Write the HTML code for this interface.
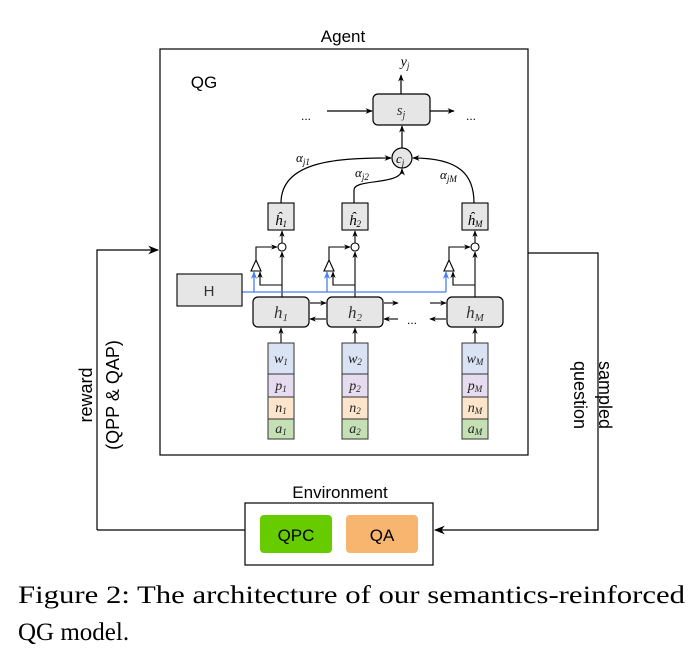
<!DOCTYPE html>
<html><head><meta charset="utf-8"><style>
html,body{margin:0;padding:0;background:#fff;width:700px;height:663px;overflow:hidden}
svg{display:block}
.s{font-family:"Liberation Sans",sans-serif}
.m{font-family:"Liberation Serif",serif;font-style:italic}
</style></head><body>
<svg width="700" height="663" viewBox="0 0 700 663" xmlns="http://www.w3.org/2000/svg">
<defs>
<marker id="a" viewBox="0 0 10 10" refX="9" refY="5" markerWidth="6" markerHeight="6" orient="auto"><path d="M0,1 L10,5 L0,9 L3,5z" fill="#000"/></marker>
<marker id="ab" viewBox="0 0 10 10" refX="9" refY="5" markerWidth="6" markerHeight="6" orient="auto"><path d="M0,1 L10,5 L0,9 L3,5z" fill="#4a7cf5"/></marker>
<marker id="A" viewBox="0 0 10 10" refX="9" refY="5" markerWidth="9" markerHeight="9" orient="auto"><path d="M0,1 L10,5 L0,9 L3,5z" fill="#000"/></marker>
</defs>
<g fill="none" stroke="#000" stroke-width="1.2">
<rect x="160" y="49" width="368" height="406"/>
<path d="M97,530 V250 H158" marker-end="url(#A)"/>
<path d="M97,530 H245"/>
<path d="M528,253 H598 V530 H435" marker-end="url(#A)"/>
<rect x="245" y="503" width="188" height="62"/>
</g>
<rect x="260" y="515" width="72" height="38" rx="4" fill="#66cc00"/>
<rect x="346" y="515" width="72" height="38" rx="4" fill="#f8b570"/>
<g class="s" font-size="17" text-anchor="middle">
<text x="296" y="541">QPC</text><text x="382" y="541">QA</text>
<text x="340" y="498">Environment</text>
<text x="343" y="42">Agent</text>
<text x="204" y="88">QG</text>
</g>
<g class="s" font-size="18" text-anchor="middle">
<text transform="translate(92,395) rotate(-90)">reward</text>
<text transform="translate(119,395) rotate(-90)">(QPP &amp; QAP)</text>
<text transform="translate(599,395) rotate(90)">sampled</text>
<text transform="translate(574,395) rotate(90)">question</text>
</g>
<rect x="373" y="94" width="57" height="31" rx="5" fill="#e6e6e6" stroke="#000" stroke-width="1.2"/>
<text x="401" y="115" class="m" font-size="15" text-anchor="middle" fill="#333">s<tspan font-size="10" dy="3">j</tspan></text>
<text x="405" y="66" class="m" font-size="14" text-anchor="middle">y<tspan font-size="9" dy="3">j</tspan></text>
<g fill="none" stroke="#000" stroke-width="1.2">
<path d="M401,94 V75" marker-end="url(#a)"/>
<path d="M327,111 H372" marker-end="url(#a)"/>
<path d="M430,111 H454" marker-end="url(#a)"/>
<path d="M402,148 V126" marker-end="url(#a)"/>
<circle cx="402" cy="158" r="10" fill="#e6e6e6"/>
<path d="M281,203 C281,160 340,158 391,158" marker-end="url(#a)"/>
<path d="M354,203 V190 C354,178 402,186 402,169" marker-end="url(#a)"/>
<path d="M474,203 C474,175 460,158 413,158" marker-end="url(#a)"/>
</g>
<text x="301" y="120" class="s" font-size="12">...</text><text x="466" y="120" class="s" font-size="12">...</text>
<text x="407" y="324" class="s" font-size="12">...</text>
<g class="m" font-size="13">
<text x="296" y="162">α<tspan font-size="9" dy="3">j1</tspan></text>
<text x="355" y="177">α<tspan font-size="9" dy="3">j2</tspan></text>
<text x="440" y="179">α<tspan font-size="9" dy="3">jM</tspan></text>
<text x="396" y="163">c<tspan font-size="9" dy="3">j</tspan></text>
</g>
<g fill="none" stroke="#000" stroke-width="1.1">
<rect x="268" y="203" width="26" height="27" fill="#e6e6e6"/>
<rect x="342" y="203" width="26" height="27" fill="#e6e6e6"/>
<rect x="462" y="203" width="26" height="27" fill="#e6e6e6"/>
</g>
<g class="m" font-size="15" text-anchor="middle">
<text x="281" y="225">ĥ<tspan font-size="9" dy="2">1</tspan></text>
<text x="355" y="225">ĥ<tspan font-size="9" dy="2">2</tspan></text>
<text x="475" y="225">ĥ<tspan font-size="9" dy="2">M</tspan></text>
</g>
<g fill="none" stroke="#000" stroke-width="1.1">
<path d="M282,297 V252" marker-end="url(#a)"/><path d="M282,243 V231" marker-end="url(#a)"/><circle cx="282" cy="247" r="4" fill="#fff"/>
<path d="M256,260 V247 H277" marker-end="url(#a)"/><path d="M256,260 L251,271 H261 Z" fill="#fff"/><path d="M282,285 H260 V272" marker-end="url(#a)"/>
<path d="M355,297 V252" marker-end="url(#a)"/><path d="M355,243 V231" marker-end="url(#a)"/><circle cx="355" cy="247" r="4" fill="#fff"/>
<path d="M329,260 V247 H350" marker-end="url(#a)"/><path d="M329,260 L324,271 H334 Z" fill="#fff"/><path d="M355,285 H333 V272" marker-end="url(#a)"/>
<path d="M475,297 V252" marker-end="url(#a)"/><path d="M475,243 V231" marker-end="url(#a)"/><circle cx="475" cy="247" r="4" fill="#fff"/>
<path d="M449,260 V247 H470" marker-end="url(#a)"/><path d="M449,260 L444,271 H454 Z" fill="#fff"/><path d="M475,285 H453 V272" marker-end="url(#a)"/>
</g>
<g fill="none" stroke="#4a7cf5" stroke-width="1.3">
<path d="M242,292 H446"/>
<path d="M254,292 V272" marker-end="url(#ab)"/>
<path d="M327,292 V272" marker-end="url(#ab)"/>
<path d="M446,292 V272" marker-end="url(#ab)"/>
</g>
<rect x="177" y="274" width="65" height="32" fill="#e6e6e6" stroke="#000" stroke-width="1.1"/>
<text x="209" y="296" class="s" font-size="15" text-anchor="middle" fill="#333">H</text>
<g fill="#e6e6e6" stroke="#000" stroke-width="1.2">
<rect x="253" y="297" width="56" height="30" rx="5"/>
<rect x="327" y="297" width="56" height="30" rx="5"/>
<rect x="447" y="297" width="56" height="30" rx="5"/>
</g>
<g class="m" font-size="17" text-anchor="middle" fill="#333">
<text x="281" y="318">h<tspan font-size="11" dy="3">1</tspan></text>
<text x="355" y="318">h<tspan font-size="11" dy="3">2</tspan></text>
<text x="475" y="318">h<tspan font-size="11" dy="3">M</tspan></text>
</g>
<g fill="none" stroke="#000" stroke-width="1.1">
<path d="M310,303 H326" marker-end="url(#a)"/><path d="M326,319 H310" marker-end="url(#a)"/>
<path d="M384,303 H398" marker-end="url(#a)"/><path d="M398,319 H384" marker-end="url(#a)"/>
<path d="M430,303 H446" marker-end="url(#a)"/><path d="M446,319 H430" marker-end="url(#a)"/>
<path d="M281,343 V328" marker-end="url(#a)"/><path d="M355,343 V328" marker-end="url(#a)"/><path d="M475,343 V328" marker-end="url(#a)"/>
</g>
<g stroke="#333" stroke-width="1">
<rect x="268" y="343" width="26" height="31" fill="#dae3f3"/><rect x="268" y="374" width="26" height="23" fill="#e6dcef"/><rect x="268" y="397" width="26" height="22" fill="#fde5cc"/><rect x="268" y="419" width="26" height="20" fill="#c5e0b4"/>
<rect x="342" y="343" width="26" height="31" fill="#dae3f3"/><rect x="342" y="374" width="26" height="23" fill="#e6dcef"/><rect x="342" y="397" width="26" height="22" fill="#fde5cc"/><rect x="342" y="419" width="26" height="20" fill="#c5e0b4"/>
<rect x="462" y="343" width="26" height="31" fill="#dae3f3"/><rect x="462" y="374" width="26" height="23" fill="#e6dcef"/><rect x="462" y="397" width="26" height="22" fill="#fde5cc"/><rect x="462" y="419" width="26" height="20" fill="#c5e0b4"/>
</g>
<g class="m" font-size="14" text-anchor="middle" fill="#222">
<text x="281" y="363">w<tspan font-size="9" dy="2">1</tspan></text><text x="281" y="390">p<tspan font-size="9" dy="2">1</tspan></text><text x="281" y="412">n<tspan font-size="9" dy="2">1</tspan></text><text x="281" y="433">a<tspan font-size="9" dy="2">1</tspan></text>
<text x="355" y="363">w<tspan font-size="9" dy="2">2</tspan></text><text x="355" y="390">p<tspan font-size="9" dy="2">2</tspan></text><text x="355" y="412">n<tspan font-size="9" dy="2">2</tspan></text><text x="355" y="433">a<tspan font-size="9" dy="2">2</tspan></text>
<text x="475" y="363">w<tspan font-size="9" dy="2">M</tspan></text><text x="475" y="390">p<tspan font-size="9" dy="2">M</tspan></text><text x="475" y="412">n<tspan font-size="9" dy="2">M</tspan></text><text x="475" y="433">a<tspan font-size="9" dy="2">M</tspan></text>
</g>
<g font-family="'Liberation Serif',serif" font-size="25" fill="#000">
<text x="18" y="603" textLength="667" lengthAdjust="spacingAndGlyphs">Figure 2: The architecture of our semantics-reinforced</text>
<text x="18" y="640">QG model.</text>
</g>
</svg>
</body></html>
